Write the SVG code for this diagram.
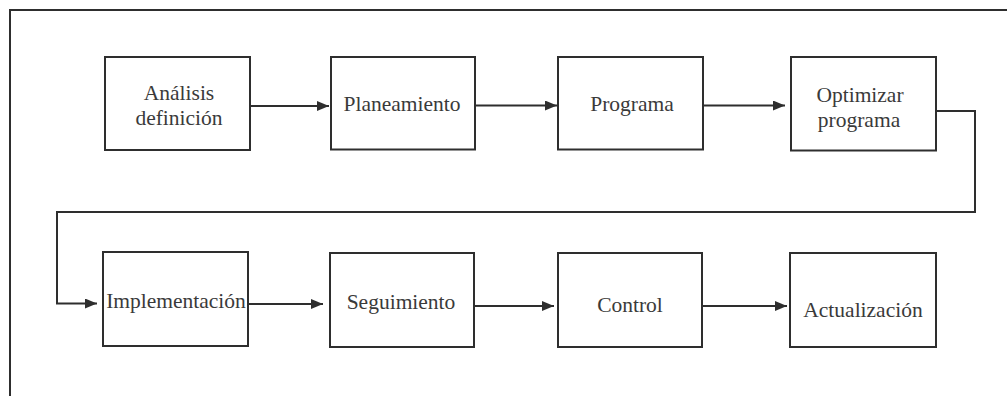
<svg xmlns="http://www.w3.org/2000/svg" width="1007" height="396" viewBox="0 0 1007 396">
  <defs>
    <style>
      .box { fill: #ffffff; stroke: #2e2e2e; stroke-width: 2; }
      .lbl { font-family: "Liberation Serif", "Times New Roman", serif; font-size: 21.5px; fill: #3a3a3a; text-anchor: middle; }
      .wire { fill: none; stroke: #2e2e2e; stroke-width: 2; }
    </style>
    <marker id="arrow" viewBox="0 0 12 10" refX="12" refY="5" markerWidth="12" markerHeight="10" markerUnits="userSpaceOnUse" orient="auto">
      <path d="M0,0 L12,5 L0,10 z" fill="#2e2e2e"/>
    </marker>
  </defs>
  <rect width="1007" height="396" fill="#ffffff"/>

  <!-- outer frame (top and left edges) -->
  <path class="wire" d="M10,396 V10 H1007"/>

  <!-- connectors -->
  <g id="connectors">
    <path class="wire" d="M250,106 H329" marker-end="url(#arrow)"/>
    <path class="wire" d="M475,105.5 H557" marker-end="url(#arrow)"/>
    <path class="wire" d="M703,105.5 H785" marker-end="url(#arrow)"/>
    <path class="wire" d="M936,111 H975 V212 H57 V303.5 H97" marker-end="url(#arrow)"/>
    <path class="wire" d="M248,304 H323" marker-end="url(#arrow)"/>
    <path class="wire" d="M474,306 H554" marker-end="url(#arrow)"/>
    <path class="wire" d="M702,306 H787" marker-end="url(#arrow)"/>
  </g>

  <g id="analisis">
    <rect class="box" x="105" y="57" width="145" height="93"/>
    <text class="lbl" x="179" y="100">Análisis</text>
    <text class="lbl" x="179" y="124.5">definición</text>
  </g>
  <g id="planeamiento">
    <rect class="box" x="331" y="57" width="144" height="92.5"/>
    <text class="lbl" x="402" y="111">Planeamiento</text>
  </g>
  <g id="programa">
    <rect class="box" x="558" y="57" width="145" height="92.5"/>
    <text class="lbl" x="632" y="111">Programa</text>
  </g>
  <g id="optimizar">
    <rect class="box" x="791" y="57" width="145" height="93.5"/>
    <text class="lbl" x="860" y="102">Optimizar</text>
    <text class="lbl" x="859" y="126.5">programa</text>
  </g>

  <g id="implementacion">
    <rect class="box" x="103" y="252" width="145" height="94"/>
    <text class="lbl" x="176" y="307.5">Implementación</text>
  </g>
  <g id="seguimiento">
    <rect class="box" x="330" y="253" width="144" height="94"/>
    <text class="lbl" x="401" y="309">Seguimiento</text>
  </g>
  <g id="control">
    <rect class="box" x="558" y="253" width="144" height="94"/>
    <text class="lbl" x="630" y="311.5">Control</text>
  </g>
  <g id="actualizacion">
    <rect class="box" x="790" y="253" width="146" height="94"/>
    <text class="lbl" x="863" y="316.5">Actualización</text>
  </g>
</svg>
